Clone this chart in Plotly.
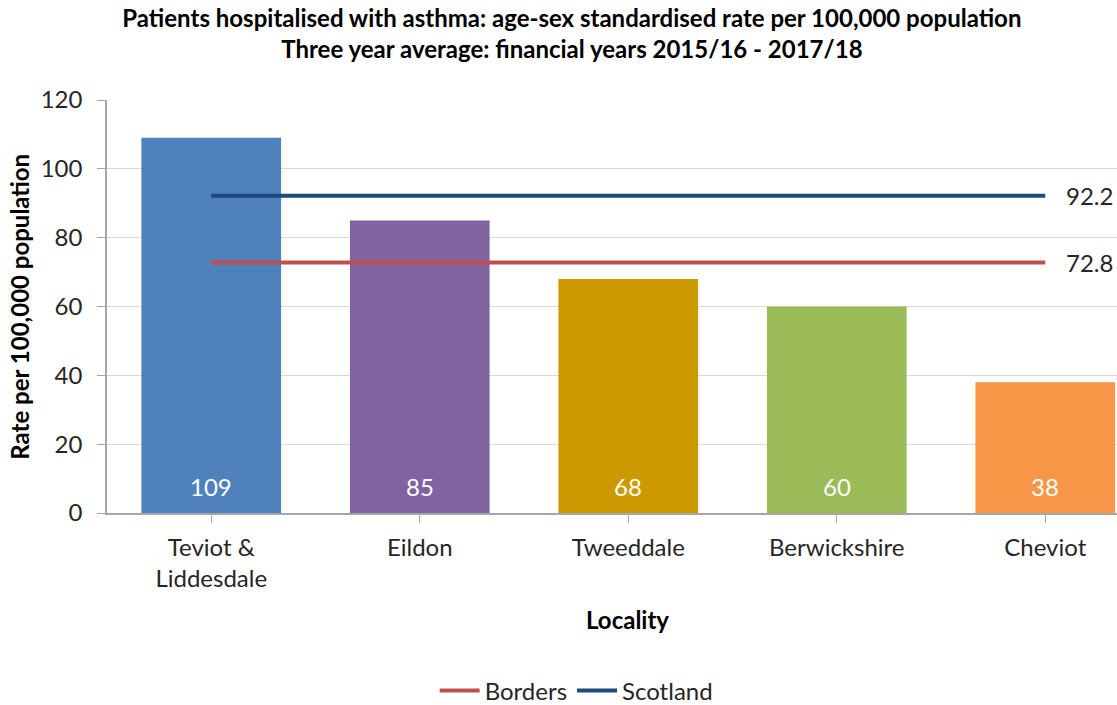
import plotly.graph_objects as go

# Asthma hospitalisation rates by locality (3-year average, 2015/16 - 2017/18)
localities = ["Teviot &<br>Liddesdale", "Eildon", "Tweeddale", "Berwickshire", "Cheviot"]
rates = [109, 85, 68, 60, 38]
bar_colors = ["#4F81BD", "#8064A2", "#CC9900", "#9BBB59", "#F79646"]

borders_rate = 72.8
scotland_rate = 92.2

y_ticks = [0, 20, 40, 60, 80, 100, 120]

FONT = "Lato"
FS = 24
x_idx = list(range(len(localities)))

fig = go.Figure()

fig.add_trace(go.Bar(
    x=x_idx,
    y=rates,
    marker=dict(color=bar_colors, line=dict(width=0)),
    width=0.67,
    showlegend=False,
    hoverinfo="skip",
))

# Reference lines across all localities
fig.add_trace(go.Scatter(
    x=[x_idx[0], x_idx[-1]],
    y=[borders_rate, borders_rate],
    mode="lines",
    line=dict(color="#C0504D", width=4),
    name="Borders",
))
fig.add_trace(go.Scatter(
    x=[x_idx[0], x_idx[-1]],
    y=[scotland_rate, scotland_rate],
    mode="lines",
    line=dict(color="#1F497D", width=4),
    name="Scotland",
))

annotations = []
# value labels inside the bars, near the base
for xi, v in zip(x_idx, rates):
    annotations.append(dict(
        x=xi, y=0, xref="x", yref="y", text=str(v), showarrow=False,
        yanchor="middle", yshift=27,
        font=dict(family=FONT, size=FS, color="white"),
    ))
# line end labels
for v in (scotland_rate, borders_rate):
    annotations.append(dict(
        x=x_idx[-1], y=v, xref="x", yref="y", text=f"{v:.1f}", showarrow=False,
        xanchor="left", xshift=19,
        font=dict(family=FONT, size=FS, color="#262626"),
    ))
# x axis title
annotations.append(dict(
    x=0.515, y=-0.258, xref="paper", yref="paper", text="<b>Locality</b>",
    showarrow=False, xanchor="center", yanchor="middle",
    font=dict(family=FONT, size=FS, color="black"),
))
# y axis title
annotations.append(dict(
    x=-0.087, y=0.5, xref="paper", yref="paper", text="<b>Rate per 100,000 population</b>",
    showarrow=False, textangle=-90, xanchor="center", yanchor="middle",
    font=dict(family=FONT, size=FS, color="black"),
))

fig.update_layout(
    width=1117,
    height=705,
    margin=dict(l=107, r=0, t=100, b=192, autoexpand=False),
    paper_bgcolor="white",
    plot_bgcolor="white",
    title=dict(
        text="<b>Patients hospitalised with asthma: age-sex standardised rate per 100,000 population<br>"
             "Three year average: financial years 2015/16 - 2017/18</b>",
        x=0.512, xanchor="center", y=0.962, yanchor="middle",
        font=dict(family=FONT, size=FS, color="black"),
    ),
    xaxis=dict(
        tickmode="array",
        tickvals=x_idx,
        ticktext=localities,
        range=[-0.5, 4.344],
        showgrid=False,
        showline=True,
        linecolor="#A6A6A6",
        linewidth=1.5,
        ticks="outside",
        tickson="boundaries",
        ticklen=8,
        tickcolor="#A6A6A6",
        ticklabelstandoff=4,
        tickfont=dict(family=FONT, size=FS, color="#262626"),
        zeroline=False,
    ),
    yaxis=dict(
        range=[0, 120],
        tickvals=y_ticks,
        showgrid=True,
        gridcolor="#D9D9D9",
        gridwidth=1,
        showline=True,
        linecolor="#A6A6A6",
        linewidth=1.5,
        ticks="outside",
        ticklen=8,
        tickcolor="#A6A6A6",
        ticklabelstandoff=10,
        tickfont=dict(family=FONT, size=FS, color="#262626"),
        zeroline=False,
    ),
    legend=dict(
        orientation="h",
        x=0.465, xanchor="center",
        y=-0.431, yanchor="middle",
        font=dict(family=FONT, size=FS, color="#262626"),
        itemwidth=40,
    ),
    annotations=annotations,
)

fig.write_html("out.html")
